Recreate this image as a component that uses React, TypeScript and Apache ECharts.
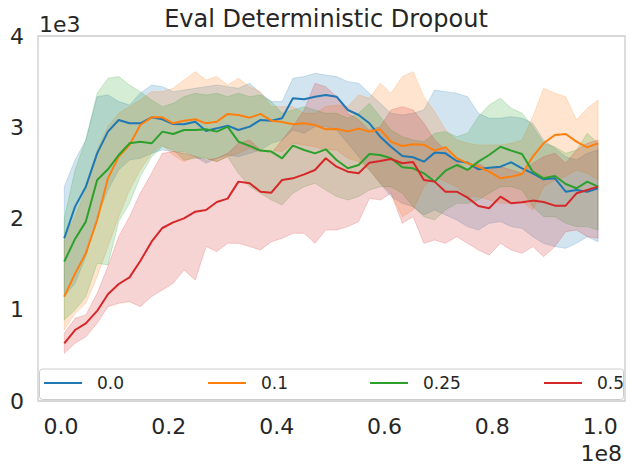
import React, { useEffect, useRef } from "react";
import * as echarts from "echarts";

// training steps, in millions (axis shows units of 1e8)
const steps = [0.6, 2.6, 4.6, 6.7, 8.7, 10.7, 12.7, 14.7, 16.8, 18.8, 20.8, 22.8, 24.9, 26.9, 28.9, 30.9, 32.9, 35.0, 37.0, 39.0, 41.0, 43.0, 45.1, 47.1, 49.1, 51.1, 53.2, 55.2, 57.2, 59.2, 61.2, 63.3, 65.3, 67.3, 69.3, 71.3, 73.4, 75.4, 77.4, 79.4, 81.5, 83.5, 85.5, 87.5, 89.5, 91.6, 93.6, 95.6, 97.6, 99.6];

const names = ["0.0", "0.1", "0.25", "0.5"];
const colors = ["#1f77b4", "#ff7f0e", "#2ca02c", "#d62728"];
const bandColors = ["rgba(31,119,180,0.2)", "rgba(255,127,14,0.2)", "rgba(44,160,44,0.2)", "rgba(214,39,40,0.2)"];

const mean00 = [1783, 2130, 2349, 2714, 2952, 3080, 3043, 3043, 3109, 3087, 3036, 3032, 3061, 2959, 2988, 3018, 2970, 3007, 3080, 3072, 3098, 3317, 3306, 3335, 3354, 3335, 3189, 3134, 3043, 2897, 2787, 2685, 2671, 2623, 2722, 2714, 2630, 2612, 2539, 2557, 2568, 2616, 2550, 2495, 2429, 2440, 2294, 2312, 2294, 2331];
const upper00 = [2349, 2641, 2860, 3335, 3354, 3281, 3244, 3372, 3463, 3445, 3390, 3408, 3427, 3445, 3463, 3445, 3427, 3482, 3372, 3281, 3281, 3536, 3555, 3591, 3573, 3555, 3500, 3482, 3372, 3262, 3153, 3134, 3153, 3189, 3408, 3390, 3372, 3335, 3153, 3098, 3098, 3116, 3098, 3043, 2860, 2769, 2678, 2641, 2714, 2751];
const lower00 = [1144, 1290, 1582, 2020, 2312, 2532, 2641, 2660, 2714, 2751, 2733, 2733, 2678, 2605, 2660, 2696, 2678, 2714, 2751, 2824, 2860, 2970, 2934, 3007, 3007, 2970, 2824, 2678, 2532, 2386, 2240, 2166, 2130, 2039, 2093, 2039, 1984, 1911, 1874, 1947, 1966, 1911, 1892, 1801, 1728, 1692, 1673, 1728, 1801, 1746];

const mean01 = [1144, 1396, 1619, 1984, 2440, 2678, 2806, 3025, 3109, 3109, 3043, 3072, 3087, 3043, 3061, 3146, 3134, 3105, 3146, 3072, 3058, 3032, 3043, 3025, 2977, 2981, 2955, 2985, 2952, 2977, 2842, 2795, 2813, 2809, 2744, 2780, 2660, 2605, 2568, 2513, 2440, 2459, 2488, 2678, 2824, 2915, 2926, 2842, 2780, 2824];
const upper01 = [1801, 2020, 2312, 2751, 3007, 3153, 3226, 3299, 3390, 3390, 3427, 3518, 3609, 3518, 3555, 3463, 3536, 3445, 3390, 3226, 3226, 3226, 3153, 3153, 3226, 3244, 3226, 3354, 3317, 3482, 3372, 3555, 3609, 3335, 3171, 2970, 2860, 2824, 2806, 2806, 2806, 2824, 2860, 3116, 3427, 3372, 3335, 3080, 3208, 3299];
const lower01 = [778, 961, 1071, 1363, 1692, 2020, 2312, 2532, 2714, 2806, 2696, 2623, 2678, 2660, 2623, 2678, 2714, 2769, 2733, 2751, 2733, 2824, 2806, 2787, 2751, 2751, 2660, 2623, 2532, 2386, 2276, 2020, 2093, 2349, 2459, 2404, 2349, 2240, 2240, 2203, 2166, 2166, 2185, 2093, 2349, 2422, 2459, 2532, 2495, 2422];

const mean025 = [1527, 1776, 1966, 2422, 2539, 2696, 2824, 2842, 2824, 2952, 2926, 2970, 2970, 2977, 2952, 3007, 2842, 2795, 2744, 2733, 2660, 2798, 2751, 2714, 2758, 2641, 2550, 2586, 2707, 2696, 2660, 2561, 2550, 2495, 2404, 2524, 2586, 2532, 2623, 2696, 2787, 2744, 2707, 2513, 2440, 2466, 2378, 2331, 2404, 2349];
const upper025 = [2002, 2532, 2860, 3372, 3536, 3555, 3463, 3390, 3299, 3226, 3262, 3335, 3372, 3354, 3372, 3335, 3372, 3335, 3354, 3281, 3153, 3189, 3226, 3189, 3153, 3153, 3098, 3153, 3262, 3116, 2970, 2897, 2860, 2842, 2934, 2952, 2897, 2934, 3116, 3244, 3317, 3208, 3153, 3007, 2824, 2787, 2714, 2751, 2934, 2824];
const lower025 = [888, 998, 1144, 1509, 1491, 1966, 2166, 2459, 2678, 2787, 2751, 2641, 2660, 2660, 2623, 2678, 2495, 2349, 2276, 2203, 2148, 2276, 2349, 2386, 2312, 2240, 2203, 2240, 2312, 2349, 2349, 2276, 2130, 2020, 1984, 2093, 2166, 2166, 2203, 2276, 2349, 2349, 2312, 2130, 2020, 2020, 1947, 1911, 1911, 1874];

const mean05 = [632, 778, 851, 987, 1169, 1282, 1355, 1534, 1746, 1896, 1958, 2002, 2075, 2093, 2181, 2218, 2404, 2386, 2294, 2283, 2422, 2440, 2484, 2532, 2660, 2568, 2513, 2495, 2612, 2630, 2652, 2605, 2619, 2422, 2404, 2294, 2294, 2229, 2137, 2112, 2240, 2167, 2177, 2196, 2181, 2141, 2141, 2276, 2313, 2349];
const upper05 = [742, 906, 943, 1180, 1473, 1801, 2020, 2276, 2495, 2714, 2733, 2714, 2678, 2641, 2660, 2714, 2824, 2860, 2751, 2714, 2860, 3007, 3189, 3482, 3445, 3335, 3153, 3080, 2970, 3007, 3189, 3226, 3189, 3043, 2860, 2751, 2623, 2532, 2605, 2532, 2568, 2532, 2495, 2605, 2678, 2714, 2605, 2751, 2824, 2860];
const lower05 = [523, 632, 705, 851, 1034, 1071, 1089, 1034, 1144, 1217, 1290, 1436, 1326, 1692, 1637, 1728, 1728, 1692, 1655, 1746, 1783, 1838, 1838, 1728, 1874, 1874, 1911, 1966, 2221, 2203, 2276, 1947, 2020, 1728, 1765, 1728, 1801, 1728, 1655, 1600, 1728, 1655, 1618, 1692, 1582, 1692, 1856, 1874, 1801, 1783];

const xTicks = [0, 20, 40, 60, 80, 100];

const means = [mean00, mean01, mean025, mean05];
const uppers = [upper00, upper01, upper025, upper05];
const lowers = [lower00, lower01, lower025, lower05];
const legendLefts = [44, 208, 370, 544];

const FONT = "DejaVu Sans";
const TEXT = "#262626";

export default function App() {
  const ref = useRef<HTMLDivElement>(null);
  useEffect(() => {
    if (!ref.current) return;
    const chart = echarts.init(ref.current, undefined, { renderer: "svg" });
    const series: any[] = [];
    names.forEach((name, k) => {
      series.push({
        name,
        type: "line",
        data: steps.map((s, i) => [s, means[k][i]]),
        showSymbol: false,
        symbol: "none",
        lineStyle: { color: colors[k], width: 2 },
        itemStyle: { color: colors[k] },
        z: 2,
      });
      series.push({
        name: name + " band",
        type: "custom",
        silent: true,
        z: 2,
        data: [[steps[0], uppers[k][0]]],
        renderItem: (params: any, api: any) => {
          const pts: number[][] = [];
          for (let i = 0; i < steps.length; i++) pts.push(api.coord([steps[i], uppers[k][i]]));
          for (let i = steps.length - 1; i >= 0; i--) pts.push(api.coord([steps[i], lowers[k][i]]));
          return {
            type: "polygon",
            shape: { points: pts },
            style: { fill: bandColors[k], stroke: bandColors[k], lineWidth: 1 },
          };
        },
      });
    });

    const option: any = {
      animation: false,
      backgroundColor: "#ffffff",
      textStyle: { fontFamily: FONT },
      title: {
        text: "Eval Deterministic Dropout",
        left: 326,
        top: 7,
        padding: 0,
        textAlign: "center",
        textStyle: { fontSize: 24, fontWeight: "normal", color: TEXT, fontFamily: FONT },
      },
      grid: {
        left: 38,
        top: 36,
        right: 10,
        bottom: 73,
        show: true,
        borderColor: "#cccccc",
        borderWidth: 1.3,
        backgroundColor: "transparent",
      },
      xAxis: {
        type: "value",
        min: -4.27,
        max: 104.6,
        axisLine: { show: false },
        axisTick: { show: false },
        splitLine: { show: false },
        axisLabel: {
          customValues: xTicks,
          formatter: (v: number) => (v / 100).toFixed(1),
          fontSize: 22,
          color: TEXT,
          fontFamily: FONT,
          margin: 14,
        },
      },
      yAxis: {
        type: "value",
        min: 0,
        max: 4000,
        interval: 1000,
        axisLine: { show: false },
        axisTick: { show: false },
        splitLine: { show: false },
        axisLabel: {
          formatter: (v: number) => String(v / 1000),
          fontSize: 22,
          color: TEXT,
          fontFamily: FONT,
          margin: 14,
        },
      },
      legend: names.map((n, k) => ({
        data: [n],
        left: legendLefts[k],
        top: 373,
        padding: 0,
        icon: "rect",
        itemWidth: 38,
        itemHeight: 2,
        z: 10,
        selectedMode: false,
        textStyle: { fontSize: 17, color: TEXT, fontFamily: FONT, padding: [0, 0, 0, 10], lineHeight: 20 },
      })),
      graphic: [
        {
          type: "rect",
          z: 5,
          shape: { x: 39.5, y: 369, width: 584, height: 30.5, r: 3 },
          style: { fill: "rgba(255,255,255,0.8)", stroke: "#cccccc", lineWidth: 1 },
        },
        {
          type: "text",
          z: 10,
          x: 39,
          y: 24,
          style: { text: "1e3", fontSize: 22, fill: TEXT, fontFamily: FONT, textAlign: "left", textVerticalAlign: "middle" },
        },
        {
          type: "text",
          z: 10,
          x: 622,
          y: 453,
          style: { text: "1e8", fontSize: 22, fill: TEXT, fontFamily: FONT, textAlign: "right", textVerticalAlign: "middle" },
        },
      ],
      series,
    };
    chart.setOption(option);
    return () => chart.dispose();
  }, []);
  return <div ref={ref} style={{ position: "absolute", left: 0, top: 0, width: 635, height: 474 }} />;
}
